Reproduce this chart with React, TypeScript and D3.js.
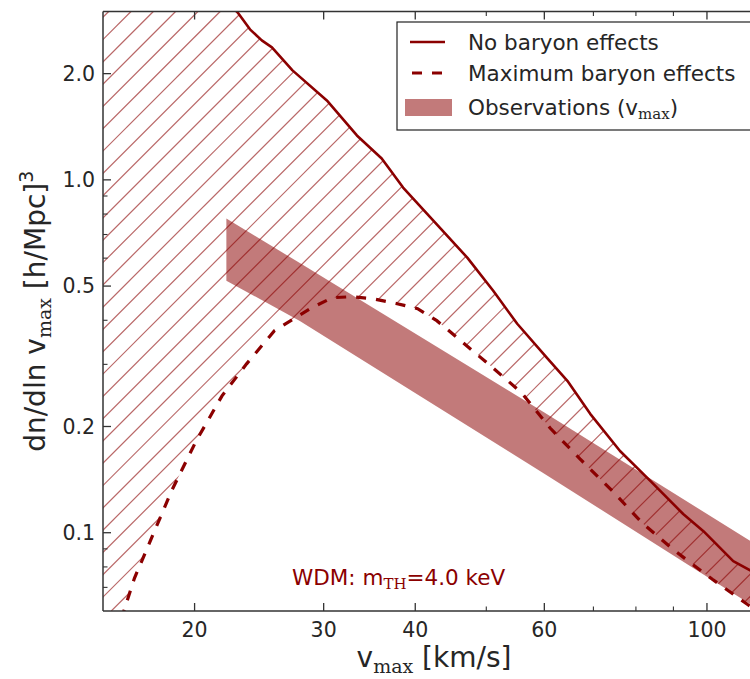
import React from 'react';
import * as d3 from 'd3';

// ---- data ----
const solidV = [15, 18, 20, 22.9, 23.8, 24.7, 25.5, 27.2, 30.3, 33.3, 36.0, 38.5, 43.2, 47.1, 51.1, 55.1, 60.5, 64.5, 69.3, 76.1, 83.7, 92.8, 98.9, 108.6, 120];
const solidN = [7.0, 4.8, 3.9, 2.98, 2.67, 2.485, 2.374, 2.043, 1.679, 1.336, 1.149, 0.951, 0.732, 0.602, 0.485, 0.391, 0.313, 0.2695, 0.2172, 0.1705, 0.1402, 0.113, 0.101, 0.0831, 0.0742];

const dashV = [15, 16.0, 16.56, 17.52, 18.6, 20.1, 21.8, 23.55, 25.7, 28.9, 30.8, 32.8, 35.0, 37.8, 40.3, 42.8, 45.3, 50.3, 55.9, 61.1, 67.1, 74.3, 81.6, 90.5, 101.7, 113.5, 120];
const dashN = [0.045, 0.0596, 0.0744, 0.0979, 0.1313, 0.182, 0.2443, 0.301, 0.3736, 0.434, 0.4634, 0.4666, 0.4605, 0.4457, 0.4314, 0.399, 0.3616, 0.301, 0.249, 0.198, 0.1619, 0.1313, 0.1066, 0.0887, 0.0738, 0.0627, 0.058];

const obsV = [22.1, 27.8, 60, 120];
const obsLo = [0.518, 0.399, 0.147, 0.059];
const obsHi = [0.777, 0.582, 0.219, 0.0893];

const xTicks = [20, 30, 40, 60, 100];
const xTickLabels = ['20', '30', '40', '60', '100'];
const xMinor = [50, 70, 80, 90];
const yTicks = [0.1, 0.2, 0.5, 1.0, 2.0];
const yTickLabels = ['0.1', '0.2', '0.5', '1.0', '2.0'];
const yMinor = [0.07, 0.08, 0.09, 0.3, 0.4, 0.6, 0.7, 0.8, 0.9];

const legendLabels = ['No baryon effects', 'Maximum baryon effects', 'Observations (v'];
const annotation = 'WDM: m';

export default function App() {
  const W = 750, H = 679;
  const L = 103, R = 765, T = 11.5, B = 611;
  const x = d3.scaleLog().domain([15, 120]).range([L, R]);
  const y = d3.scaleLog().domain([0.06, 3]).range([B, T]);
  const red = '#8b0000';
  const axisCol = '#333333';
  const textCol = '#262626';
  const sans = 'DejaVu Sans, Verdana, sans-serif';
  const serif = 'DejaVu Serif, serif';

  const line = d3.line<[number, number]>().x(d => x(d[0])).y(d => y(d[1]));
  const solidPts: [number, number][] = solidV.map((v, i) => [v, solidN[i]]);
  const dashPts: [number, number][] = dashV.map((v, i) => [v, dashN[i]]);
  const hatchPoly = line([...solidPts, ...dashPts.slice().reverse()]) + 'Z';
  const area = d3.area<[number, number, number]>()
    .x(d => x(d[0])).y0(d => y(d[1])).y1(d => y(d[2]));
  const obsPts: [number, number, number][] = obsV.map((v, i) => [v, obsLo[i], obsHi[i]]);

  // hatch lines (style): x + y = c
  const step = 22.3;
  const c0 = 454.7;
  const hatch: number[] = [];
  for (let c = c0 - step * 40; c < R + B + step; c += step) {
    if (c > L + T - step) hatch.push(c);
  }

  return (
    <svg width={W} height={H} style={{ position: 'absolute', left: 0, top: 0, background: '#fff' }}>
      <defs>
        <clipPath id="plot"><rect x={L} y={T} width={R - L} height={B - T} /></clipPath>
        <clipPath id="hatchclip"><path d={hatchPoly} /></clipPath>
      </defs>
      <rect x={0} y={0} width={W} height={H} fill="#fff" />
      <g clipPath="url(#plot)">
        <g clipPath="url(#hatchclip)">
          {hatch.map((c, i) => (
            <line key={i} x1={c - B} y1={B} x2={c - T} y2={T} stroke={red} strokeOpacity={0.6} strokeWidth={1.2} />
          ))}
        </g>
        <path d={area(obsPts) || ''} fill={red} fillOpacity={0.52} stroke="none" />
        <path d={line(solidPts) || ''} fill="none" stroke={red} strokeWidth={2.6} strokeLinejoin="round" />
        <path d={line(dashPts) || ''} fill="none" stroke={red} strokeWidth={3.2} strokeDasharray="10 10" />
      </g>

      {/* spines */}
      <line x1={L} y1={T} x2={L} y2={B} stroke={axisCol} strokeWidth={1.5} />
      <line x1={L} y1={B} x2={W} y2={B} stroke={axisCol} strokeWidth={1.5} />
      <line x1={L} y1={T} x2={W} y2={T} stroke={axisCol} strokeWidth={1.5} />

      {/* x ticks */}
      {xTicks.map((t, i) => (
        <g key={'xt' + i}>
          <line x1={x(t)} x2={x(t)} y1={B} y2={B - 8} stroke={axisCol} strokeWidth={1.3} />
          <line x1={x(t)} x2={x(t)} y1={T} y2={T + 8} stroke={axisCol} strokeWidth={1.3} />
          <text x={x(t)} y={637} textAnchor="middle" fontFamily={sans} fontSize={20.5} fill={textCol}>{xTickLabels[i]}</text>
        </g>
      ))}
      {xMinor.map((t, i) => (
        <g key={'xm' + i}>
          <line x1={x(t)} x2={x(t)} y1={B} y2={B - 4.5} stroke={axisCol} strokeWidth={1.1} />
          <line x1={x(t)} x2={x(t)} y1={T} y2={T + 4.5} stroke={axisCol} strokeWidth={1.1} />
        </g>
      ))}
      {/* y ticks */}
      {yTicks.map((t, i) => (
        <g key={'yt' + i}>
          <line x1={L} x2={L + 8} y1={y(t)} y2={y(t)} stroke={axisCol} strokeWidth={1.3} />
          <text x={95} y={y(t)} dy="0.36em" textAnchor="end" fontFamily={sans} fontSize={20.5} fill={textCol}>{yTickLabels[i]}</text>
        </g>
      ))}
      {yMinor.map((t, i) => (
        <line key={'ym' + i} x1={L} x2={L + 4.5} y1={y(t)} y2={y(t)} stroke={axisCol} strokeWidth={1.1} />
      ))}

      {/* axis labels */}
      <text x={(L + R) / 2} y={667} textAnchor="middle" fontFamily={sans} fontSize={28} fill={textCol}>
        v<tspan fontFamily={serif} fontSize={19} dy={6}>max</tspan><tspan dy={-6}> [km/s]</tspan>
      </text>
      <text transform={`translate(45, ${(T + B) / 2}) rotate(-90)`} textAnchor="middle" fontFamily={sans} fontSize={28} fill={textCol}>
        dn/dln v<tspan fontFamily={serif} fontSize={19} dy={6}>max</tspan><tspan dy={-6}> [h/Mpc]</tspan><tspan fontSize={19} dy={-12}>3</tspan>
      </text>

      {/* annotation */}
      <text x={292} y={585} fontFamily={sans} fontSize={21.5} fill={red}>
        {annotation}<tspan fontFamily={serif} fontSize={15} dy={4}>TH</tspan><tspan dy={-4}>=4.0 keV</tspan>
      </text>

      {/* legend */}
      <rect x={397} y={22} width={360} height={108} fill="#fff" stroke="#222" strokeWidth={1.2} />
      <line x1={410} x2={445} y1={42} y2={42} stroke={red} strokeWidth={2.6} />
      <line x1={410} x2={445} y1={73} y2={73} stroke={red} strokeWidth={3.2} strokeDasharray="10 10" transform="translate(2,0)" />
      <rect x={405} y={99} width={47} height={17} fill={red} fillOpacity={0.52} />
      <text x={468} y={42} dy="0.36em" fontFamily={sans} fontSize={21.5} fill={textCol}>{legendLabels[0]}</text>
      <text x={468} y={73} dy="0.36em" fontFamily={sans} fontSize={21.5} fill={textCol}>{legendLabels[1]}</text>
      <text x={468} y={107} dy="0.36em" fontFamily={sans} fontSize={21.5} fill={textCol}>
        {legendLabels[2]}<tspan fontFamily={serif} fontSize={15} dy={4}>max</tspan><tspan dy={-4}>)</tspan>
      </text>
    </svg>
  );
}
